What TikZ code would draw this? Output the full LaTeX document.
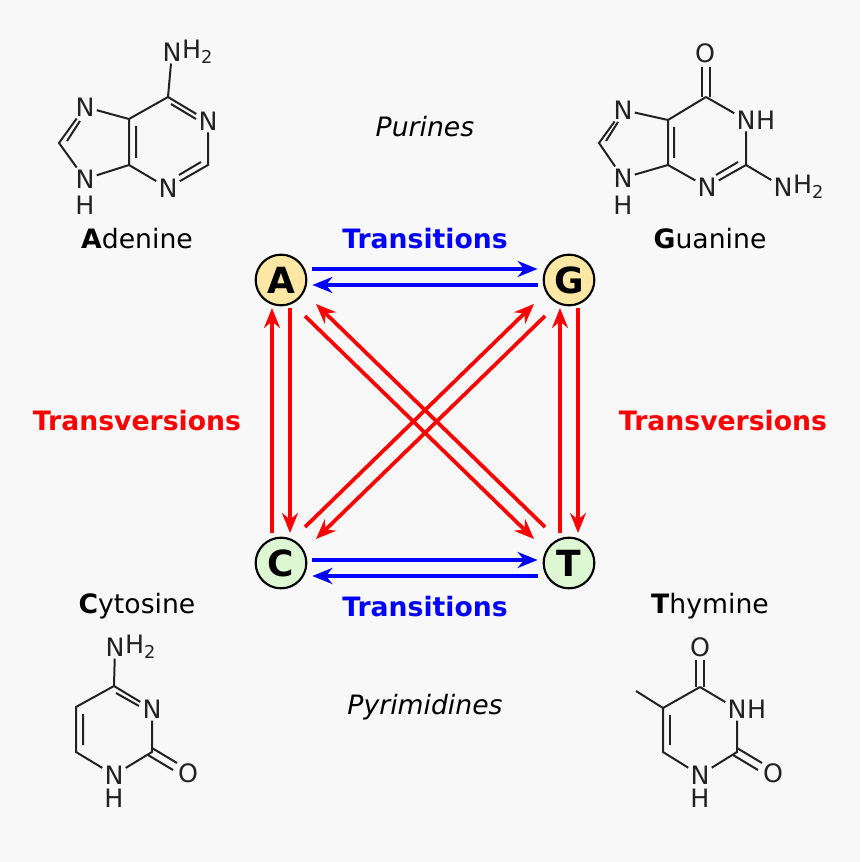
\documentclass[tikz,border=0pt]{standalone}
\usepackage{fontspec}
\setmainfont{DejaVu Sans}
\usetikzlibrary{arrows.meta,calc}
\definecolor{bg}{HTML}{F8F8F8}
\definecolor{ink}{HTML}{222222}
\definecolor{pur}{HTML}{FDE7A4}
\definecolor{pyr}{HTML}{DDF7D2}
\begin{document}
\begin{tikzpicture}[x=0.75pt,y=-0.75pt,
  atom/.style={inner sep=1.5pt,font=\fontsize{19}{19}\selectfont,text=ink},
  sub/.style={inner sep=0pt,font=\fontsize{19}{19}\selectfont,text=ink,anchor=west,xshift=-1.5pt},
  bond/.style={draw=ink,line width=1.5pt},
  base/.style={circle,draw=black,line width=1.6pt,minimum size=38pt,inner sep=0pt,font=\fontsize{27}{27}\selectfont\bfseries},
  lbl/.style={font=\fontsize{20}{20}\selectfont,text=black},
  ttl/.style={font=\fontsize{20}{20}\selectfont\itshape,text=black},
  barr/.style={draw=blue,line width=2.8pt,-{Stealth[length=15pt,width=12pt]}},
  rarr/.style={draw=red,line width=2.8pt,-{Stealth[length=15pt,width=12pt]}},
  bt/.style={font=\fontsize{20}{20}\selectfont\bfseries,text=blue},
  rt/.style={font=\fontsize{20}{20}\selectfont\bfseries,text=red}]
\fill[bg] (0,0) rectangle (860,862);
\useasboundingbox (0,0) rectangle (860,862);

% ---------- Adenine ----------
\node[atom] (aNa) at (172,52) {N}; \node[sub] (aNah) at (aNa.east) {H\textsubscript{2}};
\coordinate (aC6) at (168,97);
\node[atom] (aN1) at (208,121) {N};
\coordinate (aC2) at (208,165);
\node[atom] (aN3) at (168,188) {N};
\coordinate (aC4) at (129,165);
\coordinate (aC5) at (129,119);
\node[atom] (aN7) at (85,107) {N};
\coordinate (aC8) at (59,143);
\node[atom] (aN9) at (85,179) {N};
\node[atom] (aH9) at (85,205) {H};
\draw[bond] (aNa)--(aC6)--(aN1)--(aC2)--(aN3)--(aC4)--(aC5)--(aC6);
\draw[bond] (aC5)--(aN7)--(aC8)--(aN9)--(aC4);
\draw[bond] (171,104)--(196,119) (201,162)--(179,175) (136,126)--(136,158) (67,141)--(80,121);

% ---------- Guanine ----------
\node[atom] (gO) at (705,53) {O};
\coordinate (gC6) at (706,97);
\node[atom] (gN1) at (746,120) {N}; \node[sub] at (gN1.east) {H};
\coordinate (gC2) at (746,165);
\node[atom] (gNa) at (783,187) {N}; \node[sub] at (gNa.east) {H\textsubscript{2}};
\node[atom] (gN3) at (707,187) {N};
\coordinate (gC4) at (668,165);
\coordinate (gC5) at (668,120);
\node[atom] (gN7) at (623,110) {N};
\coordinate (gC8) at (599,143);
\node[atom] (gN9) at (623,178) {N};
\node[atom] at (623,205) {H};
\draw[bond] (gC6)--(gN1)--(gC2)--(gN3)--(gC4)--(gC5)--(gC6);
\draw[bond] (gC2)--(gNa);
\draw[bond] (gC5)--(gN7)--(gC8)--(gN9)--(gC4);
\draw[bond] (702,97)--(702,67) (710,97)--(710,67);
\draw[bond] (738,162)--(716,175) (674,127)--(674,158) (606,141)--(618,122);

% ---------- Cytosine ----------
\node[atom] (cNa) at (115,647) {N}; \node[sub] at (cNa.east) {H\textsubscript{2}};
\coordinate (cC4) at (114,686);
\node[atom] (cN3) at (152,709) {N};
\coordinate (cC2) at (152,752);
\node[atom] (cO) at (188,773) {O};
\node[atom] (cN1) at (114,775) {N};
\node[atom] at (114,798) {H};
\coordinate (cC6) at (76,752);
\coordinate (cC5) at (76,707);
\draw[bond] (cNa)--(cC4)--(cN3)--(cC2)--(cN1)--(cC6)--(cC5)--(cC4);
\draw[bond] (152,748)--(177,763) (148,755)--(173,770);
\draw[bond] (116,693)--(139,706) (83,714)--(83,745);

% ---------- Thymine ----------
\node[atom] (tO4) at (700,647) {O};
\coordinate (tC4) at (700,687);
\node[atom] (tN3) at (737,709) {N}; \node[sub] at (tN3.east) {H};
\coordinate (tC2) at (737,752);
\node[atom] (tO2) at (773,773) {O};
\node[atom] (tN1) at (700,775) {N};
\node[atom] at (700,798) {H};
\coordinate (tC6) at (663,752);
\coordinate (tC5) at (663,708);
\coordinate (tMe) at (636,691);
\draw[bond] (tC4)--(tN3)--(tC2)--(tN1)--(tC6)--(tC5)--(tC4);
\draw[bond] (tC5)--(tMe);
\draw[bond] (696,687)--(696,660) (704,687)--(704,660);
\draw[bond] (737,748)--(762,763) (733,755)--(758,770);
\draw[bond] (670,715)--(670,745);

% ---------- labels ----------
\node[lbl] (lA) at (137,239) {\textbf{A}denine};
\node[lbl] (lG) at (710,239) {\textbf{G}uanine};
\node[lbl] (lC) at (137,606) {\textbf{C}ytosine};
\node[lbl] (lT) at (710,606) {\textbf{T}hymine};
\node[ttl] (pu) at (425,127) {Purines};
\node[ttl] (py) at (425,707) {Pyrimidines};
\node[bt] (t1) at (425,239) {Transitions};
\node[bt] (t2) at (425,607) {Transitions};
\node[rt] (v1) at (137,421) {Transversions};
\node[rt] (v2) at (723,421) {Transversions};

% ---------- bases ----------
\node[base,fill=pur] (A) at (281,280) {A};
\node[base,fill=pur] (G) at (569,280) {G};
\node[base,fill=pyr] (C) at (281,563) {C};
\node[base,fill=pyr] (T) at (569,563) {T};

% transitions
\draw[barr] ([shift={(5,-11)}]A.east) -- ([shift={(-5,-11)}]G.west);
\draw[barr] ([shift={(-5,5)}]G.west) -- ([shift={(5,5)}]A.east);
\draw[barr] ([shift={(5,-3)}]C.east) -- ([shift={(-5,-3)}]T.west);
\draw[barr] ([shift={(-5,13)}]T.west) -- ([shift={(5,13)}]C.east);
% vertical transversions
\draw[rarr] ([shift={(-9,-30)}]C.center) -- ([shift={(-9,28)}]A.center);
\draw[rarr] ([shift={(9,28)}]A.center) -- ([shift={(9,-30)}]C.center);
\draw[rarr] ([shift={(-9,-30)}]T.center) -- ([shift={(-9,28)}]G.center);
\draw[rarr] ([shift={(9,28)}]G.center) -- ([shift={(9,-30)}]T.center);
% diagonals
\draw[rarr] ([shift={(24,36)}]A.center) -- ([shift={(-35,-24)}]T.center);
\draw[rarr] ([shift={(-24,-36)}]T.center) -- ([shift={(35,24)}]A.center);
\draw[rarr] ([shift={(24,-36)}]C.center) -- ([shift={(-35,24)}]G.center);
\draw[rarr] ([shift={(-24,36)}]G.center) -- ([shift={(35,-24)}]C.center);
\end{tikzpicture}
\end{document}
